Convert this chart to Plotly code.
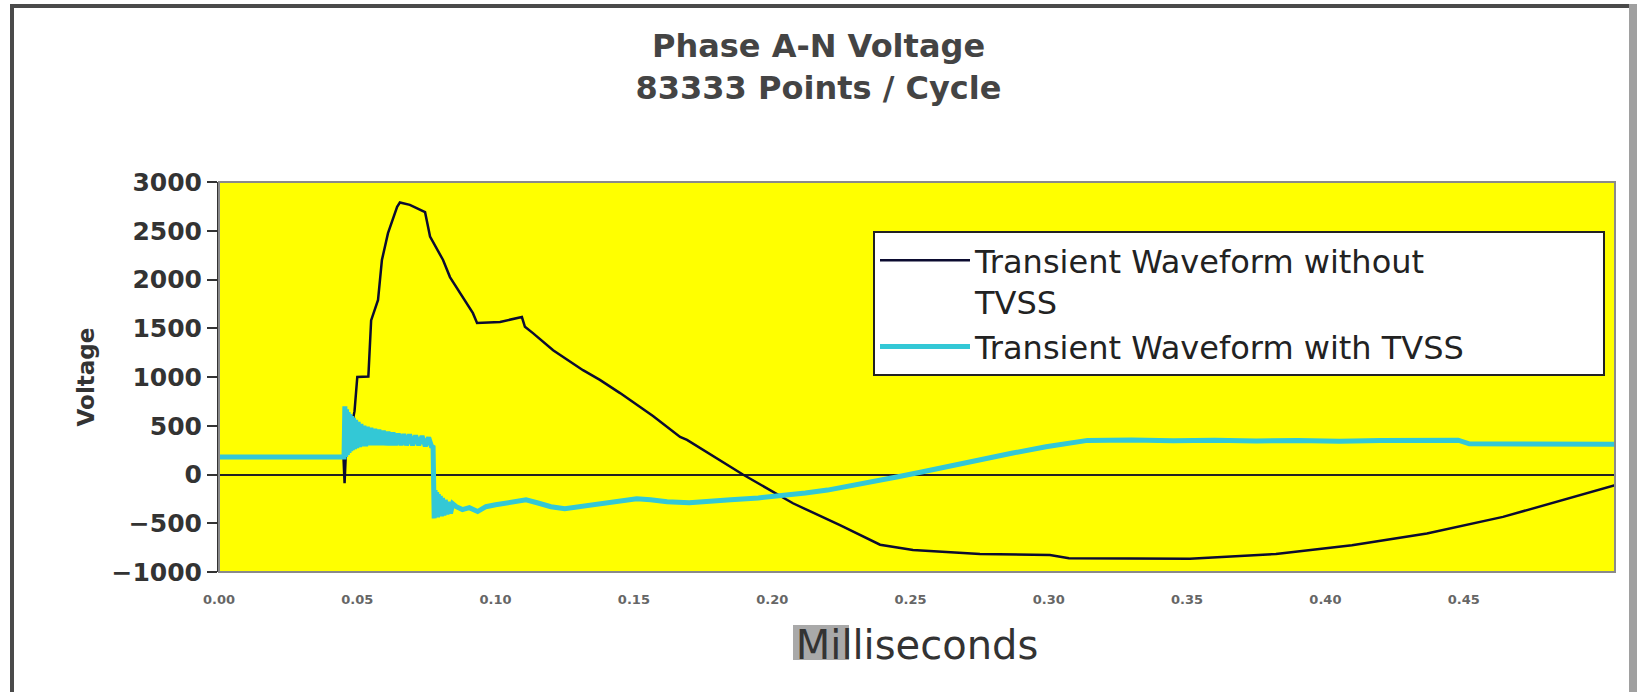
import plotly.graph_objects as go

# ---- data ----
x_ticks = [0.00, 0.05, 0.10, 0.15, 0.20, 0.25, 0.30, 0.35, 0.40, 0.45]
series_names = ["Transient Waveform without<br>TVSS", "Transient Waveform with TVSS"]

without_ms = [0.0000, 0.0450, 0.0454, 0.0458, 0.0463, 0.0490, 0.0500, 0.0540, 0.0550, 0.0575,
              0.0589, 0.0611, 0.0644, 0.0654, 0.0690, 0.0745, 0.0763, 0.0810, 0.0835, 0.0882,
              0.0918, 0.0933, 0.1016, 0.1095, 0.1106, 0.1135, 0.1208, 0.1316, 0.1377, 0.1450,
              0.1511, 0.1569, 0.1667, 0.1692, 0.1894, 0.2075, 0.2245, 0.2390, 0.2509, 0.2751,
              0.3004, 0.3073, 0.3510, 0.3821, 0.4096, 0.4367, 0.4642, 0.5047]
without_v = [180, 180, -90, 180, 260, 650, 1000, 1005, 1580, 1790,
             2200, 2475, 2745, 2790, 2765, 2690, 2440, 2200, 2025, 1820,
             1655, 1555, 1565, 1615, 1515, 1450, 1275, 1070, 970, 835,
             710, 600, 385, 355, 0, -295, -520, -720, -775, -815,
             -825, -860, -865, -815, -725, -605, -435, -110]

with_ms = [0.0000, 0.0452, 0.0455, 0.0458, 0.0461, 0.0464, 0.0467, 0.0470, 0.0473, 0.0476,
           0.0479, 0.0482, 0.0486, 0.0490, 0.0494, 0.0498, 0.0503, 0.0508, 0.0513, 0.0518,
           0.0524, 0.0530, 0.0536, 0.0542, 0.0549, 0.0556, 0.0563, 0.0570, 0.0578, 0.0586,
           0.0594, 0.0602, 0.0611, 0.0620, 0.0629, 0.0638, 0.0648, 0.0658, 0.0668, 0.0678,
           0.0689, 0.0700, 0.0711, 0.0722, 0.0734, 0.0746, 0.0758, 0.0768, 0.0774,
           0.0778, 0.0781, 0.0784, 0.0787, 0.0790, 0.0793, 0.0796, 0.0800, 0.0804, 0.0808,
           0.0813, 0.0818, 0.0824, 0.0830, 0.0837, 0.0845, 0.0858, 0.0880, 0.0905, 0.0935,
           0.0965, 0.1000, 0.1040, 0.1080, 0.1110, 0.1150, 0.1200, 0.1250, 0.1300, 0.1350,
           0.1400, 0.1450, 0.1510, 0.1560, 0.1620, 0.1700, 0.1780, 0.1850, 0.1950, 0.2030,
           0.2120, 0.2200, 0.2270, 0.2350, 0.2450, 0.2540, 0.2630, 0.2750, 0.2870, 0.2990,
           0.3080, 0.3140, 0.3300, 0.3450, 0.3600, 0.3750, 0.3900, 0.4050, 0.4200, 0.4350,
           0.4480, 0.4520, 0.4750, 0.5047]
with_v = [180, 180, 700, 180, 670, 200, 640, 220, 620, 240,
          600, 250, 580, 260, 560, 270, 540, 280, 520, 290,
          500, 290, 490, 300, 480, 300, 470, 300, 460, 300,
          450, 300, 440, 300, 430, 300, 420, 300, 415, 300,
          410, 300, 400, 300, 395, 290, 380, 290, 280,
          -450, -160, -440, -180, -440, -200, -430, -220, -430, -240,
          -420, -260, -410, -280, -400, -300, -330, -360, -340, -380,
          -330, -310, -290, -280, -260, -290, -330, -350, -330, -310,
          -300, -280, -250, -260, -280, -290, -280, -260, -240, -220,
          -190, -160, -125, -80, -25, 25, 80, 150, 220, 285,
          330, 350, 355, 345, 352, 344, 350, 342, 350, 345,
          352, 315, 312, 310]

# ---- geometry helpers (pixel layout of the reference) ----
W, H = 1637, 692
L, R, T, B = 219, 1615, 182, 572


def px(x):
    return (x - L) / (R - L)


def py(y):
    return (B - y) / (B - T)


FONT = "DejaVu Sans"
PAD = "\u00a0" * 13  # blank room at the right of the legend box, as in the reference

fig = go.Figure()
fig.add_trace(go.Scatter(x=without_ms, y=without_v, mode="lines",
                         name=series_names[0],
                         line=dict(color="#0b0b30", width=2.5)))
fig.add_trace(go.Scatter(x=with_ms, y=with_v, mode="lines",
                         name=series_names[1] + PAD,
                         line=dict(color="#33c8d6", width=5)))

shapes = [
    # plot-area border
    dict(type="rect", xref="paper", yref="paper", x0=0, x1=1, y0=0, y1=1,
         line=dict(color="#8a8a8a", width=2), layer="above"),
    # grey highlight behind "Milli"
    dict(type="rect", xref="paper", yref="paper", x0=px(793), x1=px(849),
         y0=py(660), y1=py(625), fillcolor="#a9a9a9", line=dict(width=0), layer="below"),
    # outer chart frame
    dict(type="line", xref="paper", yref="paper", x0=px(12), x1=px(12),
         y0=py(H + 20), y1=py(6), line=dict(color="#4a4a4a", width=4)),
    dict(type="line", xref="paper", yref="paper", x0=px(10), x1=px(1630),
         y0=py(6), y1=py(6), line=dict(color="#4a4a4a", width=4)),
    dict(type="line", xref="paper", yref="paper", x0=px(1633), x1=px(1633),
         y0=py(H + 20), y1=py(4), line=dict(color="#a0a0a0", width=8)),
]

fig.update_layout(
    width=W, height=H, autosize=False,
    margin=dict(l=L, r=W - R, t=T, b=H - B, pad=0),
    paper_bgcolor="white", plot_bgcolor="#ffff00",
    font=dict(family=FONT, color="#222"),
    title=dict(text="Phase A-N Voltage<br>83333 Points / Cycle",
               x=0.5, xref="container", xanchor="center",
               y=1 - 57 / H, yref="container", yanchor="top",
               font=dict(family=FONT, size=32, weight="bold", color="#444")),
    showlegend=True,
    legend=dict(x=px(873), y=py(231), xanchor="left", yanchor="top",
                bgcolor="white", bordercolor="#222", borderwidth=2,
                font=dict(family=FONT, size=32, color="#222"),
                valign="top", tracegroupgap=0, itemwidth=90),
    shapes=shapes,
)

fig.update_xaxes(range=[0, 0.5047], tickvals=x_ticks, tickformat=".2f",
                 tickfont=dict(family=FONT, size=13, weight="bold", color="#666"),
                 ticks="", ticklabelstandoff=18, showgrid=False, zeroline=False,
                 showline=False,
                 title=dict(text="Milliseconds", standoff=24,
                            font=dict(family=FONT, size=40, color="#333")))
fig.update_yaxes(range=[-1000, 3000], dtick=500, tickformat="d",
                 tickfont=dict(family=FONT, size=25, weight="bold", color="#333"),
                 ticks="outside", ticklen=10, tickwidth=2, tickcolor="#333",
                 showline=True, linecolor="#333", linewidth=2,
                 showgrid=False, zeroline=True, zerolinecolor="#222", zerolinewidth=2,
                 title=dict(text="Voltage", standoff=10,
                            font=dict(family=FONT, size=23, weight="bold", color="#333")))

fig.write_html("out.html")
